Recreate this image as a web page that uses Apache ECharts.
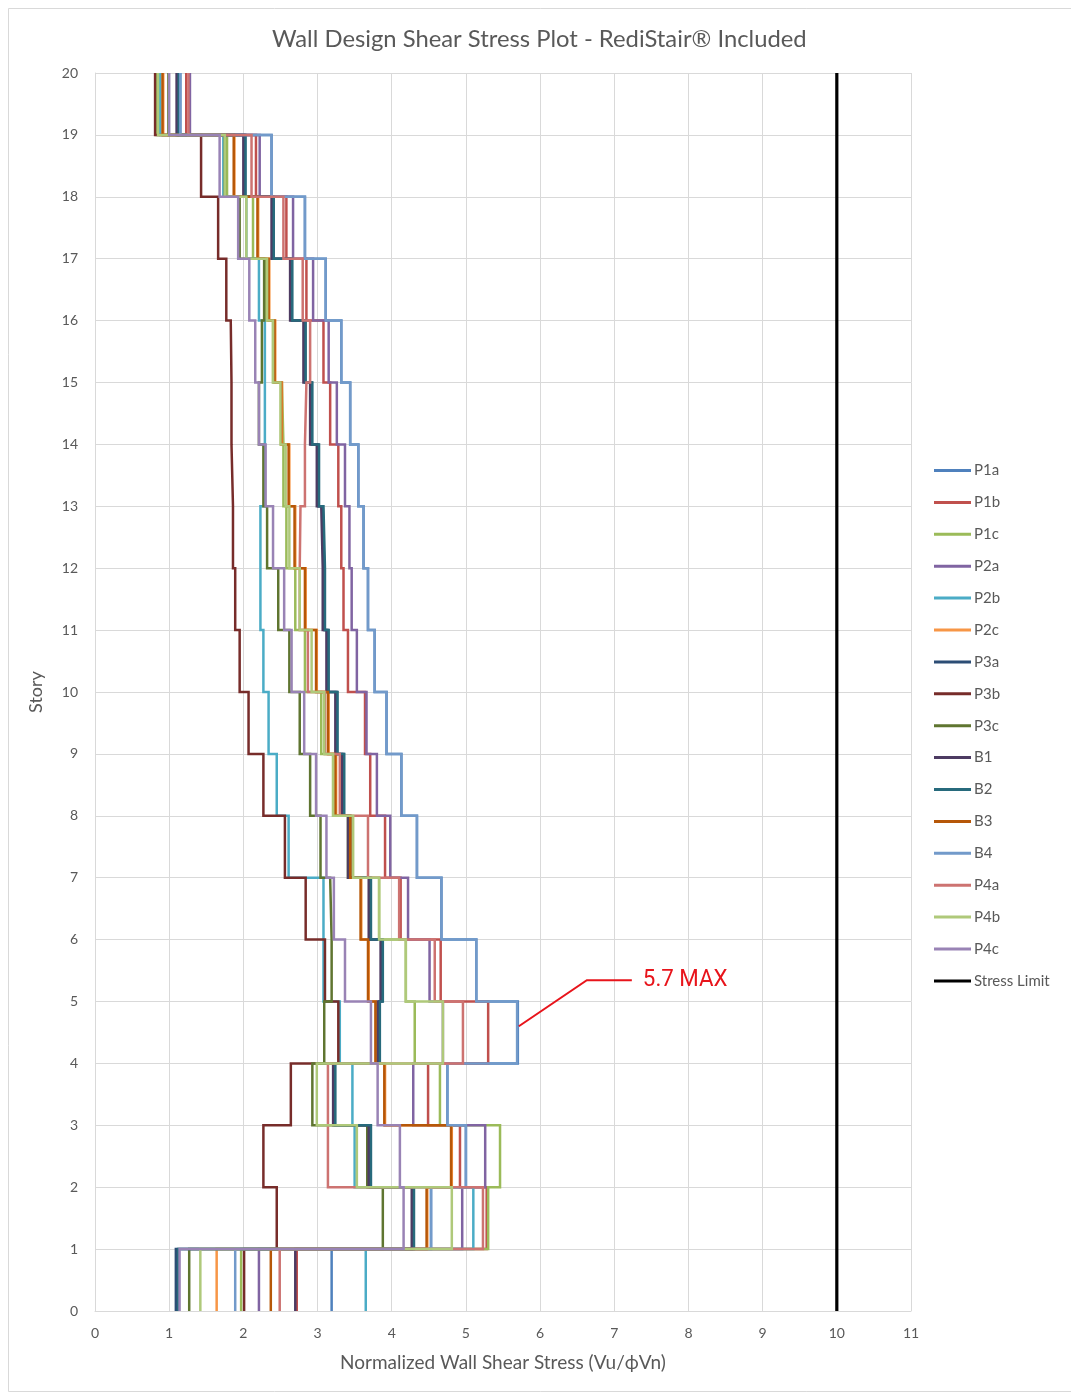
<!DOCTYPE html>
<html>
<head>
<meta charset="utf-8">
<title>Wall Design Shear Stress Plot</title>
<script src="https://cdn.jsdelivr.net/npm/echarts@6/dist/echarts.min.js"></script>
<style>
  html, body { margin: 0; padding: 0; background: #ffffff; }
  #chart { width: 1071px; height: 1395px; }
</style>
</head>
<body>
<div id="chart"></div>
<script>
// Stress per story interval: index i holds the value between story i and story i+1.
const seriesNames = ['P1a', 'P1b', 'P1c', 'P2a', 'P2b', 'P2c', 'P3a', 'P3b', 'P3c', 'B1', 'B2', 'B3', 'B4', 'P4a', 'P4b', 'P4c'];

const P1a = [3.19, 4.53, 5.00, 4.75, 5.70, 5.14, 4.67, 4.34, 4.13, 3.93, 3.77, 3.68, 3.62, 3.55, 3.44, 3.32, 3.11, 2.83, 2.38, 1.15];
const P1b = [2.72, 5.28, 4.92, 4.49, 5.30, 4.66, 4.12, 3.91, 3.71, 3.64, 3.41, 3.35, 3.32, 3.28, 3.17, 3.08, 2.85, 2.58, 2.17, 1.23];
const P1c = [1.97, 5.30, 5.46, 4.65, 4.31, 4.19, 3.83, 3.41, 3.21, 3.05, 2.83, 2.70, 2.58, 2.54, 2.52, 2.40, 2.30, 2.13, 1.78, 0.83];
const P2a = [2.21, 4.95, 5.26, 4.29, 4.69, 4.51, 4.22, 3.98, 3.80, 3.66, 3.53, 3.46, 3.43, 3.37, 3.26, 3.15, 2.94, 2.67, 2.22, 1.28];
const P2b = [3.65, 5.10, 3.50, 3.47, 3.30, 3.08, 3.08, 2.61, 2.45, 2.34, 2.27, 2.23, 2.23, 2.29, 2.29, 2.29, 2.21, 2.04, 1.73, 0.88];
const P2c = [1.64, 4.48, 4.81, 3.91, 3.79, 3.69, 3.59, 3.45, 3.25, 3.15, 2.99, 2.84, 2.70, 2.62, 2.52, 2.43, 2.35, 2.20, 1.88, 0.92];
const P3a = [1.09, 4.29, 3.71, 3.23, 3.83, 3.87, 3.71, 3.43, 3.35, 3.26, 3.14, 3.09, 3.07, 3.01, 2.92, 2.83, 2.65, 2.40, 2.02, 1.12];
const P3b = [2.01, 2.45, 2.27, 2.64, 3.28, 3.10, 2.84, 2.56, 2.27, 2.07, 1.95, 1.89, 1.86, 1.84, 1.84, 1.83, 1.77, 1.66, 1.43, 0.81];
const P3c = [1.27, 3.88, 3.67, 2.93, 3.09, 3.19, 3.17, 3.04, 2.90, 2.76, 2.62, 2.47, 2.32, 2.27, 2.21, 2.25, 2.28, 1.95, 1.75, 0.99];
const B1  = [2.70, 4.27, 3.69, 3.21, 3.81, 3.85, 3.69, 3.41, 3.33, 3.24, 3.12, 3.07, 3.05, 2.99, 2.90, 2.81, 2.63, 2.38, 2.00, 1.10];
const B2  = [1.12, 4.30, 3.72, 3.24, 3.84, 3.88, 3.72, 3.44, 3.36, 3.27, 3.15, 3.10, 3.08, 3.02, 2.93, 2.84, 2.66, 2.41, 2.03, 1.13];
const B3  = [2.37, 4.47, 4.80, 3.90, 3.78, 3.68, 3.58, 3.44, 3.24, 3.14, 2.98, 2.83, 2.69, 2.61, 2.51, 2.42, 2.34, 2.19, 1.87, 0.91];
const B4  = [1.89, 4.53, 5.00, 4.75, 5.69, 5.14, 4.67, 4.34, 4.13, 3.93, 3.77, 3.68, 3.62, 3.55, 3.44, 3.32, 3.11, 2.83, 2.38, 1.15];
const P4a = [2.49, 5.23, 3.14, 3.14, 4.96, 4.58, 4.10, 3.68, 3.30, 3.10, 2.87, 2.76, 2.77, 2.83, 2.85, 2.90, 2.80, 2.54, 2.11, 1.26];
const P4b = [1.42, 4.81, 3.53, 2.99, 4.69, 4.19, 3.83, 3.48, 3.21, 3.09, 2.92, 2.76, 2.62, 2.57, 2.50, 2.40, 2.32, 2.04, 1.75, 0.85];
const P4c = [1.14, 4.16, 4.11, 3.81, 3.72, 3.37, 3.22, 3.12, 2.98, 2.82, 2.65, 2.55, 2.40, 2.30, 2.21, 2.16, 2.08, 1.93, 1.68, 1.00];

const stressLimit = 10;
const storyMin = 0, storyMax = 20;
const stressMin = 0, stressMax = 11;

const seriesValues = [P1a, P1b, P1c, P2a, P2b, P2c, P3a, P3b, P3c, B1, B2, B3, B4, P4a, P4b, P4c];
const seriesColors = ['#4f81bd', '#c0504d', '#9bbb59', '#8064a2', '#4bacc6', '#f79646',
                      '#2c4d75', '#772c2a', '#5f7530', '#4d3b62', '#276a7c', '#b65708',
                      '#729aca', '#cd7371', '#afc97a', '#9983b5'];

const textColor = '#595959';
const gridColor = '#d9d9d9';
const baseFont = 'Lato, "Open Sans", "Noto Sans", sans-serif';

// Turn per-interval values into a stepped outline: vertical over each story, horizontal at floors.
function stepPoints(values) {
  const pts = [];
  values.forEach((v, i) => {
    pts.push([v, i]);
    pts.push([v, i + 1]);
  });
  return pts;
}

const series = seriesNames.map((name, k) => ({
  name: name,
  type: 'line',
  data: stepPoints(seriesValues[k]),
  symbol: 'none',
  showSymbol: false,
  color: seriesColors[k],
  lineStyle: { width: 2.5, color: seriesColors[k], join: 'miter' },
  animation: false,
  z: 2
}));

series.push({
  name: 'Stress Limit',
  type: 'line',
  data: [[stressLimit, storyMin], [stressLimit, storyMax]],
  symbol: 'none',
  showSymbol: false,
  color: '#000000',
  lineStyle: { width: 3.2, color: '#000000' },
  animation: false,
  z: 3
});

const chart = echarts.init(document.getElementById('chart'), null, { renderer: 'canvas' });

chart.setOption({
  backgroundColor: '#ffffff',
  animation: false,
  title: {
    text: 'Wall Design Shear Stress Plot - RediStair® Included',
    left: 267,
    top: 22,
    textStyle: { fontFamily: baseFont, fontSize: 23.8, fontWeight: 'normal', color: textColor }
  },
  grid: { left: 95, right: 160, top: 73, bottom: 84, containLabel: false },
  xAxis: {
    type: 'value',
    min: stressMin,
    max: stressMax,
    interval: 1,
    name: 'Normalized Wall Shear Stress (Vu/ϕVn)',
    nameLocation: 'middle',
    nameGap: 42,
    nameTextStyle: { fontFamily: baseFont, fontSize: 19, color: textColor },
    axisLine: { show: true, lineStyle: { color: gridColor, width: 1 } },
    axisTick: { show: false },
    axisLabel: { fontFamily: baseFont, fontSize: 14, color: textColor, margin: 15 },
    splitLine: { show: true, lineStyle: { color: gridColor, width: 1 } }
  },
  yAxis: {
    type: 'value',
    min: storyMin,
    max: storyMax,
    interval: 1,
    name: 'Story',
    nameLocation: 'middle',
    nameGap: 50,
    nameRotate: 90,
    nameTextStyle: { fontFamily: baseFont, fontSize: 18, color: textColor },
    axisLine: { show: true, lineStyle: { color: gridColor, width: 1 } },
    axisTick: { show: false },
    axisLabel: { fontFamily: baseFont, fontSize: 14, color: textColor, margin: 17 },
    splitLine: { show: true, lineStyle: { color: gridColor, width: 1 } }
  },
  legend: {
    orient: 'vertical',
    left: 934,
    top: 463,
    icon: 'rect',
    itemWidth: 37,
    itemHeight: 3,
    itemGap: 16.9,
    padding: 0,
    selectedMode: false,
    textStyle: { fontFamily: baseFont, fontSize: 15, color: textColor, padding: [0, 0, 0, -2] },
    data: seriesNames.concat(['Stress Limit'])
  },
  series: series
});

// Callout pointing at the peak stress of the walls.
function drawCallout() {
  let peak = -Infinity, peakIdx = 0;
  seriesValues.forEach(vals => vals.forEach((v, i) => { if (v > peak) { peak = v; peakIdx = i; } }));
  const anchor = chart.convertToPixel({ gridIndex: 0 }, [peak, peakIdx + 0.6]);
  const x0 = anchor[0] + 1, y0 = anchor[1];
  const x1 = x0 + 68, y1 = y0 - 46;
  const x2 = x1 + 45;
  chart.setOption({
    graphic: [
      {
        type: 'rect',
        silent: true,
        shape: { x: 8.5, y: 8.5, width: 1080, height: 1383 },
        style: { fill: 'none', stroke: gridColor, lineWidth: 1 }
      },
      {
        type: 'polyline',
        silent: true,
        shape: { points: [[x0, y0], [x1, y1], [x2, y1]] },
        style: { stroke: '#e8141b', lineWidth: 2, fill: 'none' },
        z: 10
      },
      {
        type: 'text',
        silent: true,
        x: x2 + 11,
        y: y1,
        scaleX: 0.93,
        style: {
          text: peak.toFixed(1) + ' MAX',
          fill: '#e8141b',
          fontSize: 24,
          fontFamily: '"Liberation Sans Narrow", "Roboto", "Liberation Sans", sans-serif',
          verticalAlign: 'middle',
          align: 'left'
        },
        z: 10
      }
    ]
  });
}
drawCallout();
</script>
</body>
</html>
